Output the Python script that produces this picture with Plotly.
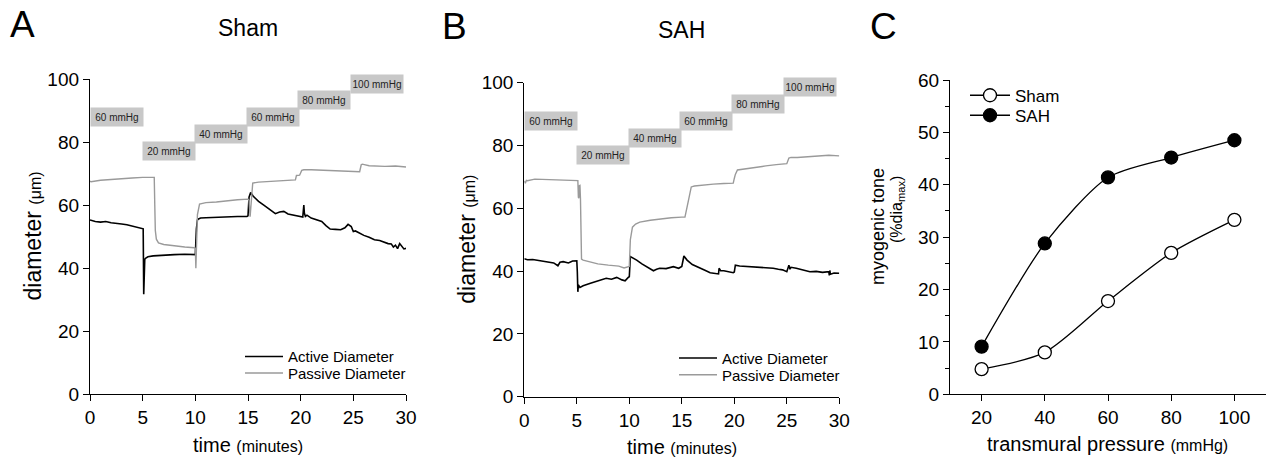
import plotly.graph_objects as go

# ---------------- data ----------------
# Panel A (Sham) time course, minutes / diameter (um)
sham_active_t = [0, 0.5, 1, 1.5, 2, 2.5, 3, 3.5, 4, 4.5,
                 5.0, 5.05, 5.1, 5.15, 5.2, 5.3, 5.5, 6, 7, 8,
                 9, 9.9, 10.0, 10.1, 10.2, 10.3, 10.5, 11, 12, 13,
                 14, 14.9, 15.0, 15.1, 15.25, 15.5, 16, 16.5, 17, 17.6,
                 18, 18.4, 18.8, 19.3, 20.0, 20.2, 20.3, 20.35, 20.45, 20.6,
                 21, 21.5, 22, 22.4, 22.8, 23.3, 23.8, 24.2, 24.5, 24.8,
                 25.0, 25.2, 25.5, 26, 26.5, 27, 27.5, 28, 28.3, 28.6,
                 28.8, 29.0, 29.2, 29.4, 29.6, 29.8, 30]
sham_active_d = [55.3, 54.8, 54.6, 54.8, 54.4, 54.3, 54.0, 53.8, 53.4, 53.1,
                 52.7, 52.5, 31.7, 42, 42.8, 43.2, 43.6, 43.9, 44.2, 44.3,
                 44.4, 44.3, 44.3, 52.5, 55.3, 55.6, 55.9, 56.0, 56.2, 56.3,
                 56.4, 56.4, 56.6, 62.5, 64.0, 62.8, 61.2, 60.0, 58.8, 57.3,
                 57.8, 58.0, 57.2, 56.8, 56.4, 56.2, 60.0, 57.5, 56.4, 56.8,
                 55.9, 55.4, 54.8, 53.5, 52.4, 52.3, 52.2, 52.8, 53.9, 53.2,
                 51.6, 51.8, 51.2, 50.4, 49.8, 49.0, 48.8, 48.2, 47.8, 47.7,
                 46.7, 47.3, 46.2, 47.8, 46.9, 46.1, 46.3]

sham_passive_t = [0, 0.1, 1, 2, 3, 4, 5, 6.0, 6.1, 6.15,
                  6.2, 6.3, 6.5, 7, 8, 9, 9.9, 10.0, 10.05, 10.1,
                  10.2, 10.4, 11, 12, 13, 14, 15.0, 15.1, 15.2, 15.3,
                  15.45, 16, 17, 18, 19, 19.5, 19.6, 19.9, 20.1, 20.3,
                  21, 22, 23, 24, 25, 25.6, 25.75, 25.85, 26.5, 27,
                  28, 29, 30]
sham_passive_d = [67.6, 67.4, 67.9, 68.2, 68.4, 68.6, 68.8, 69.0, 68.8, 60,
                  52, 49.2, 48.0, 47.5, 47.0, 46.7, 46.5, 46.3, 40.0, 46,
                  57, 60.3, 60.8, 61.0, 61.4, 61.7, 61.9, 61.5, 56.3, 62,
                  67.0, 67.3, 67.5, 67.7, 67.9, 68.0, 69.4, 69.5, 71.0, 71.2,
                  71.2, 71.1, 71.0, 70.9, 70.7, 70.6, 72.8, 73.0, 72.5, 72.4,
                  72.3, 72.4, 72.1]

# Panel B (SAH) time course
sah_active_t = [0, 0.3, 0.8, 1.5, 2.0, 2.4, 2.8, 3.2, 3.4, 3.7,
                4.2, 4.6, 5.0, 5.05, 5.1, 5.15, 5.3, 5.6, 6.3, 7.0,
                7.8, 8.3, 8.8, 9.3, 9.6, 9.9, 10.0, 10.1, 10.3, 10.7,
                11.2, 11.7, 12.3, 12.6, 12.9, 13.5, 14.2, 14.7, 15.0, 15.2,
                15.5, 16.0, 16.7, 17.2, 17.7, 18.5, 18.55, 18.6, 18.7, 19.0,
                19.5, 19.9, 20.0, 20.1, 20.5, 21.0, 21.8, 22.5, 23.2, 23.7,
                24.2, 24.6, 25.0, 25.2, 25.3, 25.4, 25.9, 26.5, 27.2, 27.8,
                28.4, 29.0, 29.05, 29.1, 29.15, 29.5, 30]
sah_active_d = [43.9, 43.6, 43.7, 43.3, 43.2, 42.9, 42.6, 41.7, 42.8, 43.0,
                42.6, 43.2, 43.3, 39.8, 33.4, 35.6, 34.8, 35.3, 36.1, 36.8,
                37.7, 37.4, 38.0, 37.2, 36.9, 38.0, 38.2, 44.6, 44.3, 43.5,
                42.3, 41.4, 40.1, 40.6, 40.9, 40.8, 41.4, 40.9, 41.5, 44.8,
                43.5, 42.1, 40.9, 40.3, 39.5, 39.1, 40.9, 40.5, 40.1, 40.1,
                39.8, 39.5, 39.7, 41.9, 41.6, 41.5, 41.4, 41.1, 41.0, 40.9,
                40.6, 40.4, 39.8, 41.9, 40.6, 41.2, 40.9, 40.4, 39.8, 39.9,
                39.6, 39.8, 38.6, 40.2, 39.0, 39.4, 39.3]

sah_passive_t = [0, 0.1, 0.2, 0.3, 1, 2, 3, 4, 5.0, 5.1,
                 5.15, 5.2, 5.25, 5.3, 5.35, 5.4, 5.45, 5.6, 6, 6.5,
                 7, 8, 9, 9.5, 9.9, 10.0, 10.1, 10.3, 10.6, 11,
                 12, 13, 14, 15.0, 15.3, 15.6, 15.9, 16.2, 17, 18,
                 19, 19.9, 20.0, 20.1, 20.3, 21, 22, 23, 24, 25.0,
                 25.2, 25.4, 26, 27, 28, 29, 30]
sah_passive_d = [68.7, 68.0, 68.9, 68.8, 69.3, 69.2, 69.1, 69.1, 69.0, 68.8,
                 63.5, 63.2, 67.2, 67.3, 63, 44.5, 43.8, 43.5, 43.1, 42.6,
                 42.3, 41.9, 41.6, 41.0, 41.4, 41.5, 50, 54.0, 55.0, 55.6,
                 56.2, 56.7, 57.0, 57.2, 57.2, 62, 66.8, 67.1, 67.4, 67.7,
                 67.9, 68.0, 69.5, 70.8, 72.2, 72.6, 73.0, 73.5, 73.9, 74.2,
                 76.0, 76.2, 76.2, 76.4, 76.6, 76.9, 76.7]

# Pressure step labels (time centre in minutes, level on diameter scale)
pressure_labels = ["60 mmHg", "20 mmHg", "40 mmHg", "60 mmHg", "80 mmHg", "100 mmHg"]
pressure_t = [2.55, 7.5, 12.4, 17.35, 22.25, 27.25]
pressure_level = [87.8, 77.1, 82.4, 87.8, 93.2, 98.5]

# Panel C
pressure_mmHg = [20, 40, 60, 80, 100]
tone_sham = [4.8, 8.0, 17.8, 27.0, 33.3]
tone_sah = [9.1, 28.8, 41.4, 45.2, 48.5]

# ---------------- figure ----------------
FONT = "Liberation Sans, Arial, Helvetica, sans-serif"
W, H = 1267, 458
BLACK = "#000000"
GRAY = "#9a9a9a"

fig = go.Figure()

def add_time_traces(t_act, d_act, t_pas, d_pas, xa, ya, leg_a, leg_p):
    fig.add_trace(go.Scatter(x=t_act, y=d_act, mode="lines", name="Active Diameter",
                             line=dict(color=BLACK, width=1.6), xaxis=xa, yaxis=ya,
                             legend=leg_a, hoverinfo="skip"))
    fig.add_trace(go.Scatter(x=t_pas, y=d_pas, mode="lines", name="Passive Diameter",
                             line=dict(color=GRAY, width=1.4), xaxis=xa, yaxis=ya,
                             legend=leg_p, hoverinfo="skip"))

add_time_traces(sham_active_t, sham_active_d, sham_passive_t, sham_passive_d, "x", "y",
                "legend", "legend2")
add_time_traces(sah_active_t, sah_active_d, sah_passive_t, sah_passive_d, "x2", "y2",
                "legend3", "legend4")

fig.add_trace(go.Scatter(x=pressure_mmHg, y=tone_sham, mode="lines+markers", name="Sham",
                         line=dict(color=BLACK, width=1.3, shape="spline", smoothing=0.75),
                         marker=dict(symbol="circle", size=13, color="white",
                                     line=dict(color=BLACK, width=1.3)),
                         xaxis="x3", yaxis="y3", legend="legend5"))
fig.add_trace(go.Scatter(x=pressure_mmHg, y=tone_sah, mode="lines+markers", name="SAH",
                         line=dict(color=BLACK, width=1.3, shape="spline", smoothing=0.75),
                         marker=dict(symbol="circle", size=13, color=BLACK,
                                     line=dict(color=BLACK, width=1.3)),
                         xaxis="x3", yaxis="y3", legend="legend6"))

def px_x(px):
    return px / W

def px_y(py):
    return 1 - py / H

axis_common = dict(showline=True, linecolor=BLACK, linewidth=1.3, ticks="outside",
                   ticklen=6, tickwidth=1.3, tickcolor=BLACK, showgrid=False,
                   zeroline=False, tickfont=dict(size=19, color=BLACK, family=FONT))

def leg(x, y_mid, size, iw):
    return dict(x=px_x(x), y=px_y(y_mid), xanchor="left", yanchor="middle",
                bgcolor="rgba(0,0,0,0)", borderwidth=0,
                font=dict(size=size, family=FONT, color=BLACK),
                itemwidth=iw, tracegroupgap=0)

fig.update_layout(
    width=W, height=H, autosize=False,
    margin=dict(l=0, r=0, t=0, b=0, pad=0, autoexpand=False),
    paper_bgcolor="white", plot_bgcolor="white",
    font=dict(family=FONT, color=BLACK),
    xaxis=dict(domain=[px_x(90), px_x(406)], range=[0, 30], tickvals=[0, 5, 10, 15, 20, 25, 30],
               anchor="y", **axis_common),
    yaxis=dict(domain=[px_y(394.3), px_y(79)], range=[0, 100], tickvals=[0, 20, 40, 60, 80, 100],
               anchor="x", **axis_common),
    xaxis2=dict(domain=[px_x(524.3), px_x(839.3)], range=[0, 30], tickvals=[0, 5, 10, 15, 20, 25, 30],
                anchor="y2", **axis_common),
    yaxis2=dict(domain=[px_y(396.7), px_y(82.7)], range=[0, 100], tickvals=[0, 20, 40, 60, 80, 100],
                anchor="x2", **axis_common),
    xaxis3=dict(domain=[px_x(950), px_x(1266)], range=[10, 110], tickvals=[20, 40, 60, 80, 100],
                anchor="y3", **axis_common),
    yaxis3=dict(domain=[px_y(394.3), px_y(80)], range=[0, 60], tickvals=[0, 10, 20, 30, 40, 50, 60],
                anchor="x3",
                minor=dict(dtick=5, ticks="outside", ticklen=4, tickwidth=1.3, tickcolor=BLACK,
                           showgrid=False),
                **axis_common),
    legend=leg(240, 356.7, 15, 38),
    legend2=leg(240, 373.2, 15, 38),
    legend3=leg(674, 358.3, 15, 38),
    legend4=leg(674, 375, 15, 38),
    legend5=leg(965, 95.7, 17, 40),
    legend6=leg(965, 115.7, 17, 40),
    showlegend=True,
)

annotations = []
# pressure step boxes
for xa, ya in (("x", "y"), ("x2", "y2")):
    for lab, t, lev in zip(pressure_labels, pressure_t, pressure_level):
        annotations.append(dict(x=t, y=lev, xref=xa, yref=ya, text=lab, showarrow=False,
                                bgcolor="#c8c8c8", width=52, height=18, borderpad=0,
                                font=dict(size=10, color="#222222", family=FONT),
                                xanchor="center", yanchor="middle"))

def text_ann(txt, x, y, size, angle=0):
    annotations.append(dict(x=px_x(x), y=px_y(y), xref="paper", yref="paper", text=txt,
                            showarrow=False, textangle=angle, xanchor="center", yanchor="middle",
                            font=dict(size=size, color=BLACK, family=FONT)))

text_ann("A", 22.5, 25, 37)
text_ann("Sham", 248, 28, 23)
text_ann("B", 454, 26, 37)
text_ann("SAH", 681.5, 30, 23)
text_ann("C", 883, 27, 37)

text_ann("diameter <span style='font-size:16px'>(μm)</span>", 33, 236.5, 23, -90)
text_ann("diameter <span style='font-size:16px'>(μm)</span>", 467, 239.7, 23, -90)
text_ann("time <span style='font-size:16px'>(minutes)</span>", 248, 445, 20)
text_ann("time <span style='font-size:16px'>(minutes)</span>", 682, 447, 20)
text_ann("transmural pressure <span style='font-size:16px'>(mmHg)</span>", 1107, 444, 20)
text_ann("myogenic tone", 878, 227, 18, -90)
text_ann("(%dia<sub>max</sub>)", 897, 210, 16, -90)

fig.update_layout(annotations=annotations)

fig.write_html("out.html", config={"displayModeBar": False},
               post_script="document.body.style.margin='0';document.body.style.overflow='hidden';")
